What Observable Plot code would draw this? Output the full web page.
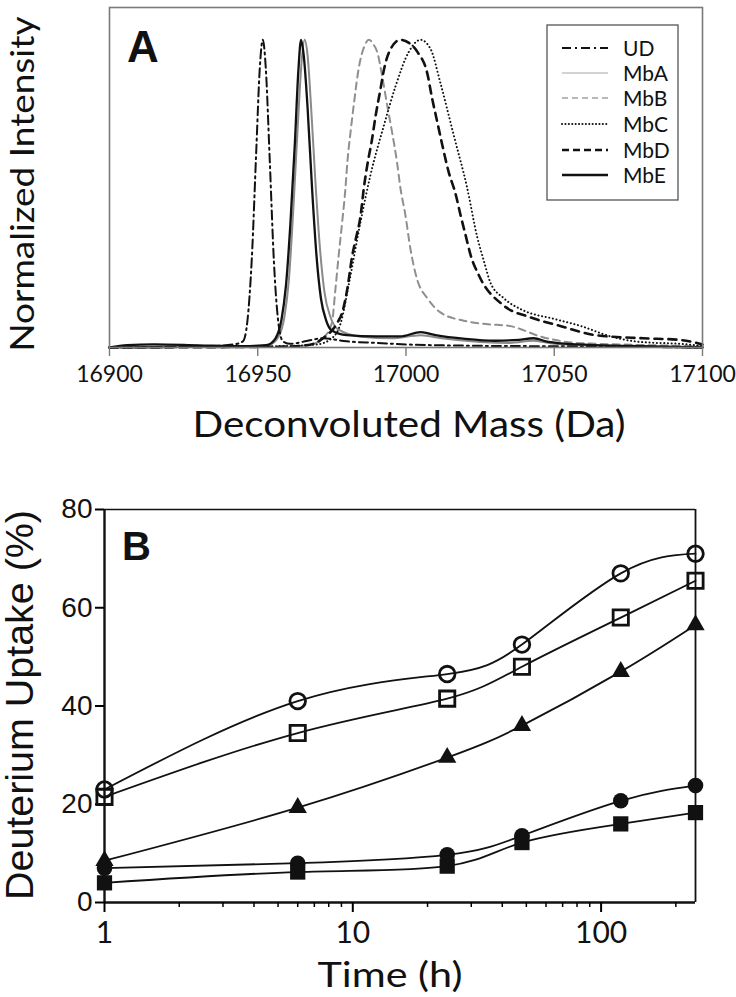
<!DOCTYPE html>
<html>
<head>
<meta charset="utf-8">
<script src="https://cdn.jsdelivr.net/npm/d3@7"></script>
<script src="https://cdn.jsdelivr.net/npm/@observablehq/plot@0.6"></script>
<style>
  html, body { margin: 0; padding: 0; background: #fff; }
  #chart { width: 736px; height: 997px; position: relative; }
  #chart svg { display: block; }
</style>
</head>
<body>
<div id="chart"></div>
<script>
// ---------- Panel A data (deconvoluted mass spectra, normalized) ----------
const massTicks = [16900, 16950, 17000, 17050, 17100];

const udMass = [16900,16930,16942,16945,16946.5,16948,16949.5,16950.7,16951.7,16952.7,16954,16955.5,16957,16958.5,16961,16966,16972,16980,16990,17000,17020,17050,17100];
const udInt  = [0,0.003,0.01,0.02,0.085,0.29,0.64,0.91,1.0,0.91,0.62,0.27,0.077,0.02,0.012,0.02,0.03,0.02,0.015,0.01,0.006,0.004,0];

const mbAMass = [16900,16920,16945,16954,16957,16959,16960.5,16962,16963.5,16964.8,16965.8,16966.8,16968,16969.5,16971,16972.5,16974.5,16977,16985,16995,17005,17012,17025,17035,17043,17050,17065,17100];
const mbAInt  = [0,0.003,0.004,0.01,0.035,0.1,0.22,0.45,0.72,0.93,1.0,0.95,0.78,0.53,0.32,0.18,0.1,0.06,0.035,0.03,0.04,0.03,0.018,0.015,0.022,0.012,0.006,0];

const mbBMass = [16900,16960,16968,16972,16975,16976.2,16977.3,16978.5,16979.6,16980.2,16981.3,16982.4,16984.1,16986,16987.5,16989,16990.3,16992,16993.6,16995.3,16997,16998.1,16999.8,17001.5,17003.8,17007.2,17011.6,17019.5,17027,17035,17040,17044,17050,17056,17065,17080,17100];
const mbBInt  = [0,0.002,0.01,0.03,0.08,0.19,0.30,0.41,0.52,0.60,0.70,0.79,0.91,0.98,1.0,0.985,0.96,0.88,0.79,0.70,0.60,0.52,0.43,0.32,0.22,0.16,0.114,0.087,0.076,0.07,0.055,0.04,0.025,0.016,0.012,0.008,0.004];

const mbCMass = [16900,16960,16970,16975,16978,16981,16984.7,16988,16992.5,16996.5,17000.9,17004.9,17008.3,17011.6,17016.1,17020.6,17024,17026.3,17028.5,17033,17039.7,17049.9,17058.9,17069,17078,17093.7,17100];
const mbCInt  = [0,0.005,0.01,0.03,0.08,0.22,0.41,0.56,0.72,0.85,0.96,1.0,0.97,0.86,0.69,0.52,0.36,0.28,0.21,0.16,0.12,0.093,0.07,0.036,0.019,0.011,0.005];

const mbDMass = [16900,16960,16968,16972,16976.8,16978.5,16980.2,16981.9,16983,16984.7,16985.8,16986.9,16988.6,16989.7,16991.4,16992.5,16994.8,16998.1,17001,17003.9,17007.2,17008.8,17010.5,17012.2,17014.4,17016.7,17018.4,17020.1,17021.8,17024.6,17033,17042,17052,17064,17080,17092,17100];
const mbDInt  = [0,0.003,0.01,0.03,0.08,0.114,0.19,0.30,0.35,0.43,0.52,0.59,0.68,0.75,0.84,0.90,0.97,1.0,0.99,0.96,0.89,0.81,0.735,0.66,0.57,0.50,0.43,0.365,0.30,0.234,0.136,0.098,0.07,0.04,0.03,0.025,0.01];

const mbEMass = [16900,16906,16915,16930,16945,16953,16956,16958,16959.5,16961,16962.5,16963.7,16964.6,16965.5,16966.8,16968.3,16969.8,16971.3,16973,16975,16980,16990,16998,17005,17010,17020,17030,17038,17043,17048,17058,17075,17100];
const mbEInt  = [0,0.008,0.01,0.007,0.004,0.008,0.03,0.09,0.2,0.4,0.66,0.9,1.0,0.95,0.78,0.52,0.3,0.16,0.09,0.055,0.04,0.036,0.036,0.05,0.04,0.028,0.022,0.025,0.03,0.018,0.01,0.005,0];

const seriesNames = ["UD", "MbA", "MbB", "MbC", "MbD", "MbE"];

// ---------- Panel B data (deuterium uptake vs time) ----------
const timeH = [1, 6, 24, 48, 120, 240];
const openCircle    = [23, 41, 46.5, 52.5, 67, 71];
const openSquare    = [21.5, 34.5, 41.5, 48, 58, 65.5];
const filledTriangle = [8.5, 19.3, 29.5, 36, 47, 56.5];
const filledCircle  = [7, 8, 9.7, 13.6, 20.7, 23.8];
const filledSquare  = [4, 6.2, 7.4, 12.2, 16, 18.3];
const uptakeTicks = [0, 20, 40, 60, 80];
const timeMajorTicks = [1, 10, 100];
const timeMinorTicks = [2,3,4,5,6,7,8,9,20,30,40,50,60,70,80,90,200];

// ---------- helpers ----------
const pts = (xs, ys) => xs.map((x, i) => ({x, y: ys[i]}));
const CAL = "Lato, 'Open Sans', sans-serif";
const ARIAL = "'Liberation Sans', Arial, sans-serif";

const styleA = {
  UD:  {stroke: "#111", strokeWidth: 2, strokeDasharray: "9,4,2,4"},
  MbA: {stroke: "#8a8a8a", strokeWidth: 2},
  MbB: {stroke: "#8f8f8f", strokeWidth: 2, strokeDasharray: "7,5"},
  MbC: {stroke: "#111", strokeWidth: 2, strokeDasharray: "0.1,3.6", strokeLinecap: "round"},
  MbD: {stroke: "#111", strokeWidth: 2.6, strokeDasharray: "8,6"},
  MbE: {stroke: "#111", strokeWidth: 2.3}
};
const legendStyle = {
  UD:  {stroke: "#111", width: 2.2, dash: "9,4,2,4"},
  MbA: {stroke: "#c4c4c4", width: 1.6, dash: null},
  MbB: {stroke: "#b8b8b8", width: 1.8, dash: "6,4"},
  MbC: {stroke: "#111", width: 2, dash: "0.1,3.3", cap: "round"},
  MbD: {stroke: "#111", width: 2.6, dash: "7,4"},
  MbE: {stroke: "#111", width: 2.6, dash: null}
};

const dataA = {
  UD: pts(udMass, udInt), MbA: pts(mbAMass, mbAInt), MbB: pts(mbBMass, mbBInt),
  MbC: pts(mbCMass, mbCInt), MbD: pts(mbDMass, mbDInt), MbE: pts(mbEMass, mbEInt)
};
const drawOrder = ["MbA", "MbB", "UD", "MbC", "MbD", "MbE"];

// ---------- Panel A ----------
const plotA = Plot.plot({
  width: 736, height: 450,
  marginLeft: 109, marginRight: 34, marginTop: 7, marginBottom: 103,
  x: {domain: [16900, 17100]},
  y: {domain: [0, 1.105]},
  style: {fontFamily: CAL, background: "white", overflow: "visible"},
  marks: [
    ...drawOrder.map(k => Plot.line(dataA[k], {x: "x", y: "y", curve: "monotone-x", ...styleA[k]})),
    Plot.frame({stroke: "#7a7a7a", strokeWidth: 1.6}),
    Plot.axisX({ticks: massTicks, tickSize: 9, tickPadding: 9, fontSize: 23, fontFamily: CAL,
                stroke: "#7a7a7a", strokeWidth: 1.4, fill: "#111", label: null, tickFormat: d => String(d)}),
    Plot.axisY({ticks: [], label: null})
  ]
});

// ---------- Panel B ----------
const lineB = (ys) => Plot.line(pts(timeH, ys), {x: "x", y: "y", curve: "natural", stroke: "#111", strokeWidth: 1.8});
const plotB = Plot.plot({
  width: 736, height: 547,
  marginLeft: 104, marginRight: 41, marginTop: 59, marginBottom: 95,
  x: {type: "log", domain: [1, 240]},
  y: {domain: [0, 80]},
  style: {fontFamily: ARIAL, background: "white", overflow: "visible"},
  marks: [
    Plot.ruleY([80], {stroke: "#111", strokeWidth: 1.6}),
    Plot.ruleX([240], {stroke: "#111", strokeWidth: 1.8}),
    Plot.ruleX([1], {stroke: "#111", strokeWidth: 2.4}),
    Plot.ruleY([0], {stroke: "#111", strokeWidth: 2.4}),
    Plot.axisY({ticks: uptakeTicks, tickSize: 9, tickPadding: 3, fontSize: 28, fontFamily: ARIAL,
                strokeWidth: 2, fill: "#111", label: null}),
    Plot.axisX({ticks: timeMajorTicks, tickSize: 10, tickPadding: 9, fontSize: 30, fontFamily: CAL,
                strokeWidth: 2, fill: "#111", label: null, tickFormat: d => String(d)}),
    Plot.axisX({ticks: timeMinorTicks, tickSize: 5, strokeWidth: 1.5, label: null, tickFormat: () => ""}),
    lineB(openCircle), lineB(openSquare), lineB(filledTriangle), lineB(filledCircle), lineB(filledSquare),
    Plot.dot(pts(timeH, openCircle), {x: "x", y: "y", symbol: "circle", r: 7.8, stroke: "#111", strokeWidth: 2.8, fill: "none"}),
    Plot.dot(pts(timeH, openSquare), {x: "x", y: "y", symbol: "square", r: 8.6, stroke: "#111", strokeWidth: 2.8, fill: "none"}),
    Plot.dot(pts(timeH, filledTriangle), {x: "x", y: "y", symbol: "triangle", r: 6.8, fill: "#111", stroke: "none"}),
    Plot.dot(pts(timeH, filledCircle), {x: "x", y: "y", symbol: "circle", r: 7.8, fill: "#111", stroke: "none"}),
    Plot.dot(pts(timeH, filledSquare), {x: "x", y: "y", symbol: "square", r: 8.6, fill: "#111", stroke: "none"})
  ]
});

const chart = document.getElementById("chart");
chart.appendChild(plotA);
chart.appendChild(plotB);

// remove empty minor-tick label nodes
d3.select(plotB).selectAll("text").filter(function() { return this.textContent === ""; }).remove();

// ---------- Panel A labels & legend ----------
const sA = d3.select(plotA);
sA.append("text").attr("x", 127).attr("y", 62).attr("text-anchor", "start").attr("font-family", ARIAL).attr("font-weight", "bold")
  .attr("font-size", 44).attr("fill", "#111").text("A");
sA.append("text").attr("transform", "translate(34,184) rotate(-90)").attr("text-anchor", "middle")
  .attr("font-family", CAL).attr("font-size", 33).attr("fill", "#111")
  .attr("textLength", 335).attr("lengthAdjust", "spacingAndGlyphs").text("Normalized Intensity");
sA.append("text").attr("x", 409).attr("y", 437).attr("text-anchor", "middle")
  .attr("font-family", CAL).attr("font-size", 36).attr("fill", "#111")
  .attr("textLength", 433).attr("lengthAdjust", "spacingAndGlyphs").text("Deconvoluted Mass (Da)");

const leg = sA.append("g");
leg.append("rect").attr("x", 547).attr("y", 25).attr("width", 131).attr("height", 175)
  .attr("fill", "white").attr("stroke", "#555").attr("stroke-width", 1.3);
const legY = [48, 73, 98, 124, 150, 175];
seriesNames.forEach((name, i) => {
  const st = legendStyle[name];
  const ln = leg.append("line").attr("x1", 562).attr("x2", 608).attr("y1", legY[i]).attr("y2", legY[i])
    .attr("stroke", st.stroke).attr("stroke-width", st.width);
  if (st.dash) ln.attr("stroke-dasharray", st.dash);
  if (st.cap) ln.attr("stroke-linecap", st.cap);
  leg.append("text").attr("x", 623).attr("y", legY[i]).attr("dy", "0.36em").attr("text-anchor", "start")
    .attr("font-family", CAL).attr("font-size", 21).attr("fill", "#111").text(name);
});

// ---------- Panel B labels ----------
const sB = d3.select(plotB);
sB.append("text").attr("x", 122).attr("y", 110).attr("text-anchor", "start").attr("font-family", ARIAL).attr("font-weight", "bold")
  .attr("font-size", 40).attr("fill", "#111").text("B");
sB.append("text").attr("transform", "translate(33,255) rotate(-90)").attr("text-anchor", "middle")
  .attr("font-family", ARIAL).attr("font-size", 38).attr("fill", "#111")
  .attr("textLength", 390).attr("lengthAdjust", "spacingAndGlyphs").text("Deuterium Uptake (%)");
sB.append("text").attr("x", 390).attr("y", 537).attr("text-anchor", "middle")
  .attr("font-family", CAL).attr("font-size", 35).attr("fill", "#111")
  .attr("textLength", 145).attr("lengthAdjust", "spacingAndGlyphs").text("Time (h)");
</script>
</body>
</html>
